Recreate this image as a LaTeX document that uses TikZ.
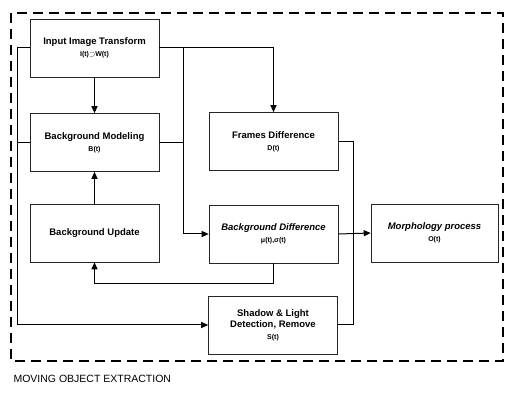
\documentclass[tikz,border=0pt]{standalone}
\usepackage{fontspec}
\setmainfont{Liberation Sans}
\usetikzlibrary{arrows.meta}
\begin{document}
\begin{tikzpicture}[x=1pt,y=-1pt,
  box/.style={draw=black!85, line width=0.6pt, minimum width=129pt, minimum height=58pt, inner sep=0pt, align=center, font=\fontsize{9.5}{11}\selectfont\bfseries},
  conn/.style={line width=1pt},
  arr/.style={conn, -{Triangle[length=7pt,width=6pt]}}]
\useasboundingbox (0,0) rectangle (507,393);
\fill[white] (0,0) rectangle (507,393);
\draw[line width=2.2pt, dash pattern=on 10pt off 6pt] (11,13) rectangle (503,361);
\node[anchor=west, font=\fontsize{10.5}{12}\selectfont] (cap) at (10,379) {MOVING OBJECT EXTRACTION};

\node[box] (inp) at (94.5,48) {Input Image Transform\\[1pt]{\fontsize{7}{8}\selectfont I(t)$\supset$W(t)}};
\node[box] (bm) at (94.5,142.5) {Background Modeling\\[1pt]{\fontsize{7}{8}\selectfont B(t)}};
\node[box] (bu) at (94.5,233) {Background Update};
\node[box] (fd) at (273.5,141.5) {Frames Difference\\[1pt]{\fontsize{7}{8}\selectfont D(t)}};
\node[box, font=\fontsize{9.5}{11}\selectfont\bfseries\itshape] (bd) at (273.5,234) {Background Difference\\[1pt]{\fontsize{7}{8}\selectfont\upshape μ(t),σ(t)}};
\node[box] (sh) at (273,325) {Shadow \& Light\\Detection, Remove\\[1pt]{\fontsize{7}{8}\selectfont S(t)}};
\node[box, minimum width=127pt, font=\fontsize{9.5}{11}\selectfont\bfseries\itshape] (mo) at (434.5,233) {Morphology process\\[1pt]{\fontsize{7}{8}\selectfont\upshape O(t)}};

\coordinate (lt) at (17,48);
\coordinate (lb) at (17,325);
\coordinate (mx) at (183,48);
\coordinate (fb) at (273.5,284);
\coordinate (rv) at (353.5,233);

\draw[arr] (inp.west) -- (lt) -- (lb) -- (sh.west);
\draw[conn] (bm.west) -- (bm.west -| lt);
\draw[arr] (inp.east) -| (fd.north);
\draw[arr] (mx) |- (bd.west);
\draw[conn] (bm.east) -- (bm.east -| mx);
\draw[arr] (inp.south) -- (bm.north);
\draw[arr] (bu.north) -- (bm.south);
\draw[arr] (bd.south) -- (fb) -| (bu.south);
\draw[conn] (fd.east) -| (rv) |- (sh.east);
\draw[arr] (bd.east) -- (mo.west);
\end{tikzpicture}
\end{document}
